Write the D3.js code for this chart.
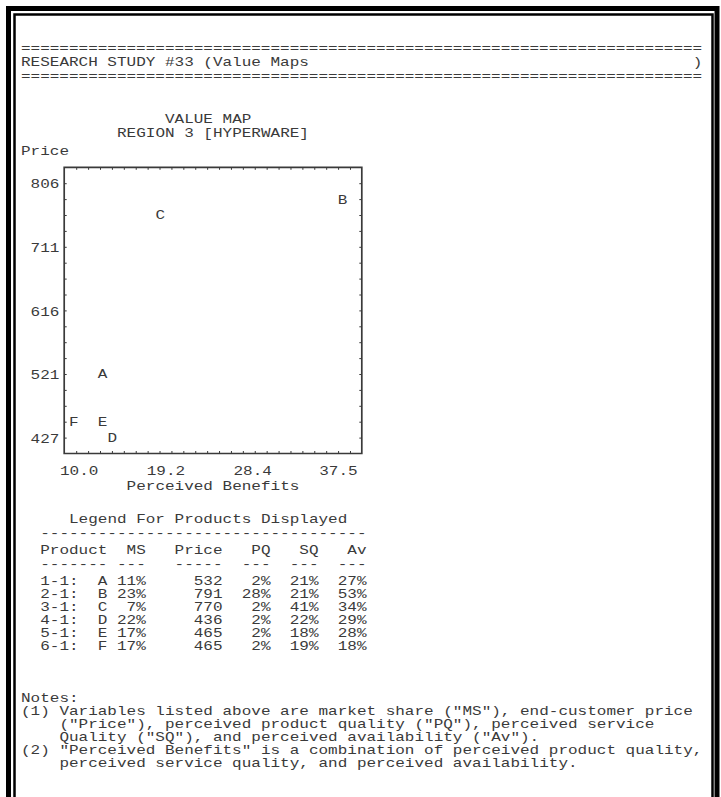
<!DOCTYPE html>
<html><head><meta charset="utf-8">
<script src="https://cdn.jsdelivr.net/npm/d3@7"></script>
<style>body{margin:0;background:#fff} svg{display:block}</style>
</head><body>
<svg id="c" width="721" height="797"></svg>
<script>
// ---------------- data ----------------
const products       = ["A","B","C","D","E","F"];
const productIds     = ["1-1","2-1","3-1","4-1","5-1","6-1"];
const marketShare    = [11,23,7,22,17,17];
const prices         = [532,791,770,436,465,465];
const productQuality = [2,28,2,2,2,2];
const serviceQuality = [21,21,41,22,18,19];
const availability   = [27,53,34,29,28,18];
const benefits       = [12.6,38.0,18.7,13.5,12.4,9.5];
const xTicks         = [10.0,19.2,28.4,37.5];
const yTicks         = [806,711,616,521,427];
const studyTitle     = "RESEARCH STUDY #33 (Value Maps";
const chartTitle     = "VALUE MAP";
const chartSubtitle  = "REGION 3 [HYPERWARE]";
const notes = [
  "Notes:",
  "(1) Variables listed above are market share (\"MS\"), end-customer price",
  "    (\"Price\"), perceived product quality (\"PQ\"), perceived service",
  "    Quality (\"SQ\"), and perceived availability (\"Av\").",
  "(2) \"Perceived Benefits\" is a combination of perceived product quality,",
  "    perceived service quality, and perceived availability."
];

// ---------------- layout ----------------
const FS = 13.4, ADV = FS*0.6, CW = 9.6, SX = CW/ADV;
const X0 = 21;            // real x of text column 0
const CAP = FS*0.66;
const INK = "#3a3a3a";
const svg = d3.select("#c");

// frame
svg.append("rect").attr("x",8.5).attr("y",8.5).attr("width",708.5).attr("height",900)
  .attr("fill","none").attr("stroke","#000").attr("stroke-width",5);
svg.append("rect").attr("x",14.5).attr("y",14.5).attr("width",698).attr("height",900)
  .attr("fill","none").attr("stroke","#000").attr("stroke-width",2.5);

const g = svg.append("g").attr("transform",`scale(${SX},1)`)
  .style("font-family","'Liberation Mono', monospace").style("font-size",FS+"px").attr("fill",INK);

const vx = xr => xr/SX;
function line(str, col, base){
  return g.append("text").attr("xml:space","preserve")
    .attr("x", vx(X0 + col*CW)).attr("y", base).text(str);
}

// header rules (slightly smaller glyph height so the lines do not collide)
const W = 71;
const RFS = 11, RSX = CW/(RFS*0.6);
const rules = svg.append("g").attr("transform",`scale(${RSX},1)`)
  .style("font-family","'Liberation Mono', monospace").style("font-size",RFS+"px").attr("fill",INK);
[51.7, 79.6].forEach(b=>rules.append("text").attr("x",X0/RSX).attr("y",b).text("=".repeat(W)));
line(studyTitle.padEnd(W-1," ")+")",0,66.2);

line(chartTitle,15,123.4);
line(chartSubtitle,10,136.7);
line("Price",0,155);

// plot box on character grid
const boxL = X0 + 4.5*CW, boxR = X0 + 35.5*CW;
const boxT = 167.3, ROWH = 15.9, NROWS = 18, boxB = boxT + NROWS*ROWH;

const x = d3.scaleLinear().domain([10.0,37.5]).range([X0+6*CW, X0+33*CW]);
const y = d3.scaleLinear().domain([427,806]).range([boxT+17*ROWH, boxT+1*ROWH]);
const xv = d3.scaleLinear().domain(x.domain()).range(x.range().map(vx));

g.append("rect").attr("x",vx(boxL)).attr("y",boxT).attr("width",vx(boxR)-vx(boxL)).attr("height",boxB-boxT)
  .attr("fill","none").attr("stroke","#3a3a3a").attr("stroke-width",1.7).attr("vector-effect","non-scaling-stroke");

// minor ticks along the box
const tH = d3.scaleLinear().domain([0,25]).range([vx(boxL),vx(boxR)]);
const tV = d3.scaleLinear().domain([0,NROWS]).range([boxT,boxB]);
function minor(sel){
  sel.select(".domain").remove();
  sel.selectAll(".tick text").remove();
  sel.selectAll(".tick line").attr("stroke","#3a3a3a").attr("vector-effect","non-scaling-stroke");
}
g.append("g").attr("transform",`translate(0,${boxT})`)
  .call(d3.axisBottom(tH).tickValues(d3.range(1,25)).tickSize(2.5).tickFormat("")).call(minor);
g.append("g").attr("transform",`translate(0,${boxB})`)
  .call(d3.axisTop(tH).tickValues(d3.range(1,25)).tickSize(2.5).tickFormat("")).call(minor);
g.append("g").attr("transform",`translate(${vx(boxL)},0)`)
  .call(d3.axisRight(tV).tickValues(d3.range(1,NROWS)).tickSize(2.5/SX).tickFormat("")).call(minor);
g.append("g").attr("transform",`translate(${vx(boxR)},0)`)
  .call(d3.axisLeft(tV).tickValues(d3.range(1,NROWS)).tickSize(2.5/SX).tickFormat("")).call(minor);

// y axis labels
const yAx = g.append("g").attr("transform",`translate(${vx(boxL)},0)`)
  .call(d3.axisLeft(y).tickValues(yTicks).tickSize(0).tickPadding(vx(4.8)).tickFormat(d3.format("d")));
yAx.select(".domain").remove();
yAx.attr("font-family",null).attr("font-size",null);
yAx.selectAll("text").attr("dy",CAP/2).attr("fill",INK);

// x axis labels
const xAx = g.append("g").attr("transform",`translate(0,475)`)
  .call(d3.axisBottom(xv).tickValues(xTicks).tickSize(0).tickFormat(d3.format(".1f")));
xAx.select(".domain").remove();
xAx.attr("font-family",null).attr("font-size",null);
xAx.selectAll("text").attr("y",0).attr("dy",0).attr("fill",INK);
line("Perceived Benefits",11,490);

// product letters, snapped to the character grid
const snapX = xr => X0 + (Math.round((xr - X0)/CW - 0.5) + 0.5)*CW;
const snapY = yr => boxT + Math.ceil((yr - boxT)/ROWH - 1e-6)*ROWH;
g.selectAll("text.pt").data(products).join("text").attr("class","pt")
  .attr("text-anchor","middle")
  .attr("x",(d,i)=>vx(snapX(x(benefits[i]))))
  .attr("y",(d,i)=>snapY(y(prices[i])) + CAP/2)
  .text(d=>d);

// legend table
line("Legend For Products Displayed",5,523);
line("-".repeat(34),2,537);
const hdr = "  Product" + "MS".padStart(4) + "Price".padStart(8) + "PQ".padStart(5) + "SQ".padStart(5) + "Av".padStart(5);
line(hdr,0,554);
line("  -------" + " ---" + "   -----" + "  ---" + "  ---" + "  ---",0,568);
const pct = v => (v+"%");
products.forEach((p,i)=>{
  const s = "  " + productIds[i] + ":" + p.padStart(3) + pct(marketShare[i]).padStart(4)
          + String(prices[i]).padStart(8) + pct(productQuality[i]).padStart(5)
          + pct(serviceQuality[i]).padStart(5) + pct(availability[i]).padStart(5);
  line(s,0,585 + i*13);
});

// notes
notes.forEach((n,i)=>line(n,0,702 + i*13));
</script>
</body></html>
